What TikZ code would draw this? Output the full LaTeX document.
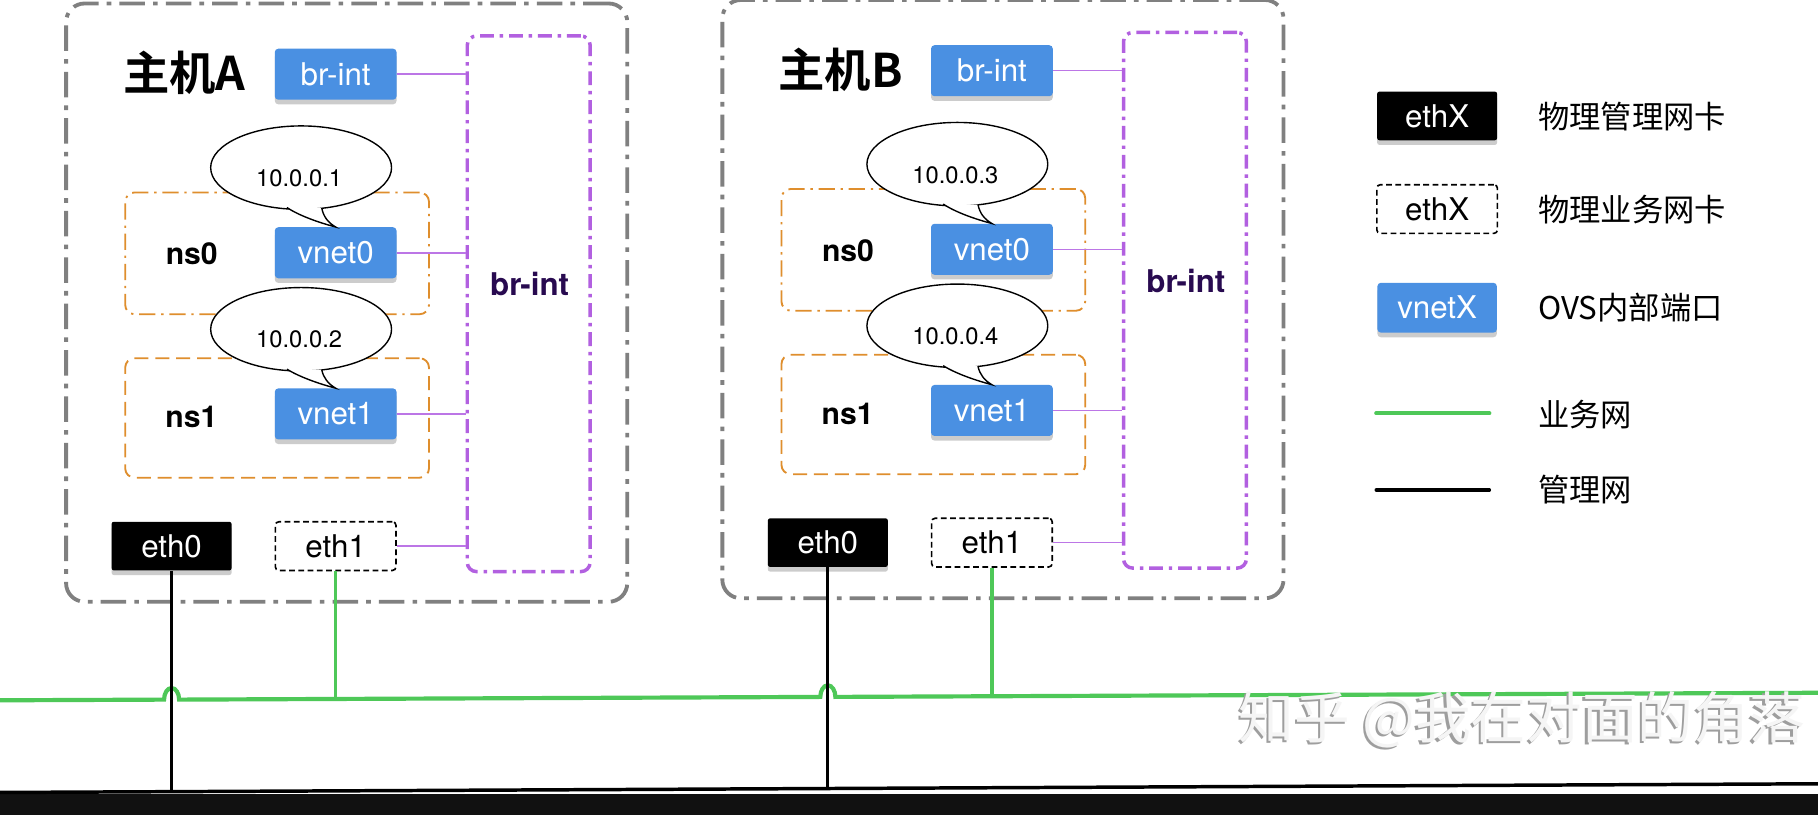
\documentclass[tikz,border=0pt]{standalone}
\usepackage{fontspec}
\setmainfont{TeX Gyre Heros}
\newfontfamily\cjk{Noto Sans CJK SC}[BoldFont={Noto Sans CJK SC Bold}]
\usetikzlibrary{shapes.geometric,shadows}
\definecolor{ovsblue}{RGB}{74,144,226}
\definecolor{hostgray}{RGB}{128,128,128}
\definecolor{ovspurple}{RGB}{178,96,224}
\definecolor{plinecol}{RGB}{188,118,230}
\definecolor{brlabel}{RGB}{40,10,80}
\definecolor{nsorange}{RGB}{223,142,45}
\definecolor{netgreen}{RGB}{78,200,88}
\definecolor{bandcol}{RGB}{17,17,17}
\tikzset{
  hostbox/.style={draw=hostgray, line width=3.3pt, rounded corners=16pt, dash pattern=on 22pt off 7pt on 4pt off 7pt, inner sep=0},
  bluebox/.style={fill=ovsblue, rounded corners=3pt, minimum width=105pt, minimum height=44pt, inner sep=0, text=white, font=\fontsize{27}{27}\selectfont, drop shadow={shadow xshift=0pt, shadow yshift=-4pt, opacity=0.4}},
  ethblack/.style={fill=black, rounded corners=2pt, minimum width=103.5pt, minimum height=42pt, inner sep=0, text=white, font=\fontsize{27}{27}\selectfont, drop shadow={shadow xshift=0pt, shadow yshift=-4pt, opacity=0.4}},
  ethdash/.style={draw=black, fill=white, line width=1.4pt, dash pattern=on 5pt off 3pt, rounded corners=3pt, minimum width=104pt, minimum height=42pt, inner sep=0, font=\fontsize{27}{27}\selectfont},
  ovsbox/.style={draw=ovspurple, line width=3pt, rounded corners=8pt, dash pattern=on 12pt off 5pt on 3pt off 5pt, inner sep=0},
  ovslabel/.style={text=brlabel, font=\fontsize{27}{27}\selectfont\bfseries, inner sep=0},
  nsdashdot/.style={draw=nsorange, line width=1.6pt, rounded corners=8pt, dash pattern=on 14pt off 5pt on 2pt off 5pt, inner sep=0},
  nsdashed/.style={draw=nsorange, line width=1.6pt, rounded corners=8pt, dash pattern=on 12pt off 6pt, inner sep=0},
  nslabel/.style={font=\fontsize{26}{26}\selectfont\bfseries, inner sep=0},
  titletext/.style={font=\fontsize{40}{40}\selectfont\cjk\bfseries, inner sep=0},
  bubble/.style={ellipse, draw=black, fill=white, line width=1.2pt, minimum width=156pt, minimum height=72pt, inner sep=0},
  tailfill/.style={fill=white, draw=none},
  tailline/.style={draw=black, line width=1.2pt},
  iptext/.style={font=\fontsize{20.5}{20.5}\selectfont, inner sep=0},
  pline/.style={draw=plinecol, line width=1.3pt},
  gline/.style={draw=netgreen, line width=3.6pt},
  gvline/.style={draw=netgreen, line width=2.8pt},
  kline/.style={draw=black, line width=3pt},
  kvline/.style={draw=black, line width=2.8pt},
  legtext/.style={font=\fontsize{27}{27}\selectfont\cjk, inner sep=0, anchor=west},
  wmtext/.style={font=\fontsize{48}{48}\selectfont\cjk, inner sep=0},
}
% #1 prefix, #2 #3 shift, #4 title, #5 #6 addresses
\newcommand\hostblk[6]{%
\begin{scope}[shift={(#2,#3)}]
\node[hostbox, minimum width=484pt, minimum height=516pt] (#1box) at (299,261) {};
\node[titletext] (#1title) at (159,63) {#4};
\node[bluebox] (#1brint) at (289.5,64) {br-int};
\node[ovsbox, minimum width=106pt, minimum height=462pt] (#1ovs) at (456,262) {};
\node[ovslabel] (#1ovslbl) at (456.8,245) {br-int};
\node[nsdashdot, minimum width=262pt, minimum height=105pt] (#1ns0) at (239,218.5) {};
\node[nslabel] (#1ns0lbl) at (165.4,219) {ns0};
\node[bluebox] (#1vnet0) at (289.5,218) {vnet0};
\node[nsdashed, minimum width=262pt, minimum height=103pt] (#1ns1) at (239,360.5) {};
\node[nslabel] (#1ns1lbl) at (165,360) {ns1};
\node[bluebox] (#1vnet1) at (289.5,357) {vnet1};
% bubble 0
\node[bubble] (#1bub0) at (259.7,144.6) {};
\coordinate (#1t0l) at (247.5,179);
\coordinate (#1t0r) at (277.5,179.5);
\path[tailfill] (#1t0l) .. controls (258,186) and (275,192) .. (#1vnet0.north) .. controls (283,192) and (279,187) .. (#1t0r) -- cycle;
\draw[tailline] (#1t0l) .. controls (258,186) and (275,192) .. (#1vnet0.north) .. controls (283,192) and (279,187) .. (#1t0r);
\node[iptext] (#1ip0) at (258,154) {#5};
% bubble 1
\node[bubble] (#1bub1) at (259.7,284) {};
\coordinate (#1t1l) at (247.5,318.4);
\coordinate (#1t1r) at (277.5,318.9);
\path[tailfill] (#1t1l) .. controls (258,325) and (275,331) .. (#1vnet1.north) .. controls (283,331) and (279,326) .. (#1t1r) -- cycle;
\draw[tailline] (#1t1l) .. controls (258,325) and (275,331) .. (#1vnet1.north) .. controls (283,331) and (279,326) .. (#1t1r);
\node[iptext] (#1ip1) at (258,293) {#6};
\node[ethblack] (#1eth0) at (148,471) {eth0};
\node[ethdash] (#1eth1) at (289.5,471) {eth1};
\foreach \n in {brint,vnet0,vnet1,eth1}
  \draw[pline] (#1\n.east) -- (#1\n.east -| #1ovs.west);
\end{scope}}
\begin{document}
\begin{tikzpicture}[x=1pt,y=-1pt]
\useasboundingbox (0,0) rectangle (1568,703);
\fill[white] (0,0) rectangle (1568,703);
% network lines
\draw[gline] (0,604) -- (141.5,603.41) arc[start angle=180, end angle=0, x radius=6.5pt, y radius=10pt] -- (707.5,601.07) arc[start angle=180, end angle=0, x radius=6.5pt, y radius=10pt] -- (1568,597.5);
\fill[bandcol] (0,685) rectangle (1568,703);
\draw[kline] (0,683.5) -- (1568,676);
\hostblk{A}{0}{0}{主机A}{10.0.0.1}{10.0.0.2}
\hostblk{B}{566}{-3}{主机B}{10.0.0.3}{10.0.0.4}
\coordinate (gA) at (289.5,602.8);
\coordinate (gB) at (855.5,600.45);
\coordinate (kA) at (148,682.8);
\coordinate (kB) at (714,680.1);
\draw[gvline] (Aeth1.south) -- (gA);
\draw[gvline] (Beth1.south) -- (gB);
\draw[kvline] (Aeth0.south) -- (kA);
\draw[kvline] (Beth0.south) -- (kB);
% legend
\node[ethblack] (legK) at (1239.5,100) {ethX};
\node[legtext] (legKt) at (1326.5,100.6) {物理管理网卡};
\node[ethdash] (legD) at (1239.5,180.3) {ethX};
\node[legtext] (legDt) at (1326.5,180.5) {物理业务网卡};
\node[bluebox, minimum width=103pt, minimum height=43pt] (legV) at (1239.5,265.4) {vnetX};
\node[legtext] (legVt) at (1326.5,265.7) {OVS内部端口};
\coordinate (lg1) at (1187,356.5);
\coordinate (lg2) at (1284.5,356.5);
\draw[gline, line cap=round] (lg1) -- (lg2);
\node[legtext] (legGt) at (1326.5,357.5) {业务网};
\coordinate (lk1) at (1187,422.6);
\coordinate (lk2) at (1284.5,422.6);
\draw[kline, line cap=round] (lk1) -- (lk2);
\node[legtext] (legBt) at (1326.5,422.6) {管理网};
% watermark
\node[wmtext, text=black!38] (wmshadow) at (1310.5,622.5) {知乎 @我在对面的角落};
\node[wmtext, text=white!96!black] (wm) at (1312.5,620.5) {知乎 @我在对面的角落};
\end{tikzpicture}
\end{document}
